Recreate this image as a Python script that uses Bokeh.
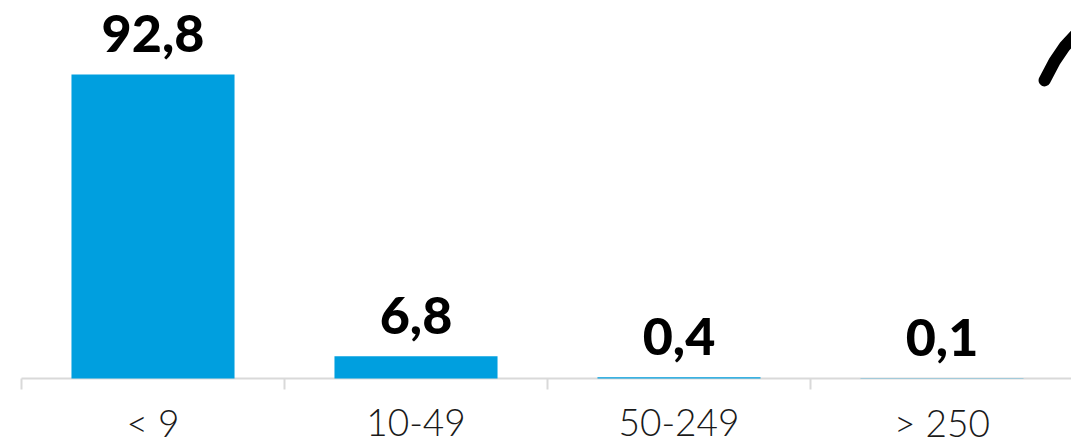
from bokeh.plotting import figure
from bokeh.models import Range1d, ColumnDataSource
from bokeh.core.properties import value
from bokeh.embed import file_html
from bokeh.resources import INLINE

# ---- data ----
categories = ["< 9", "10-49", "50-249", "> 250"]
values = [92.8, 6.8, 0.4, 0.1]
value_labels = ["92,8", "6,8", "0,4", "0,1"]
tick_positions = [0, 1, 2, 3, 4]
decor_x = [3.890, 3.928, 3.966, 4.008]
decor_y = [91.0, 96.8, 101.3, 105.0]

# ---- layout ----
W, H = 1071, 441
axis_px = 378      # canvas y of the baseline
scale = 3.276      # px per value unit
left_px = 21       # canvas x of first category boundary
cat_px = 263       # px per category

x_start = -left_px / cat_px
x_end = (W - left_px) / cat_px
y_end = axis_px / scale
y_start = -(H - axis_px) / scale

p = figure(width=W, height=H,
           x_range=Range1d(x_start, x_end), y_range=Range1d(y_start, y_end),
           output_backend="svg", toolbar_location=None, min_border=0,
           x_axis_type=None, y_axis_type=None, outline_line_color=None,
           background_fill_color="white", border_fill_color="white")
p.grid.visible = False

centers = [i + 0.5 for i in range(len(categories))]
src = ColumnDataSource(dict(x=centers, top=values, lab=value_labels, cat=categories,
                            zero=[0] * len(categories)))

# axis line + ticks (drawn first so thin bars stay visible on top)
p.segment(x0=[min(tick_positions)], y0=[0], x1=[max(tick_positions)], y1=[0],
          line_color="#d9d9d9", line_width=2)
tick_len = 11 / scale
p.segment(x0=tick_positions, y0=[0] * len(tick_positions),
          x1=tick_positions, y1=[-tick_len] * len(tick_positions),
          line_color="#d9d9d9", line_width=2)

p.vbar(x="x", top="top", bottom=0, width=0.62, source=src,
       fill_color="#009FDF", line_color=None)

# value labels
p.text(x="x", y="top", text="lab", source=src, text_align="center",
       text_baseline="middle", y_offset=-41,
       text_font=value("Lato Heavy"), text_font_style="normal",
       text_font_size="52px", text_color="black")

# category labels
p.text(x="x", y="zero", text="cat", source=src, text_align="center",
       text_baseline="middle", y_offset=44,
       text_font=value("Lato Light"), text_font_size="37px", text_color="#1a1a1a")

# decorative stroke at top right
p.line(decor_x, decor_y, line_width=12, line_color="black", line_cap="round")

open("out.html", "w").write(file_html(p, INLINE))
